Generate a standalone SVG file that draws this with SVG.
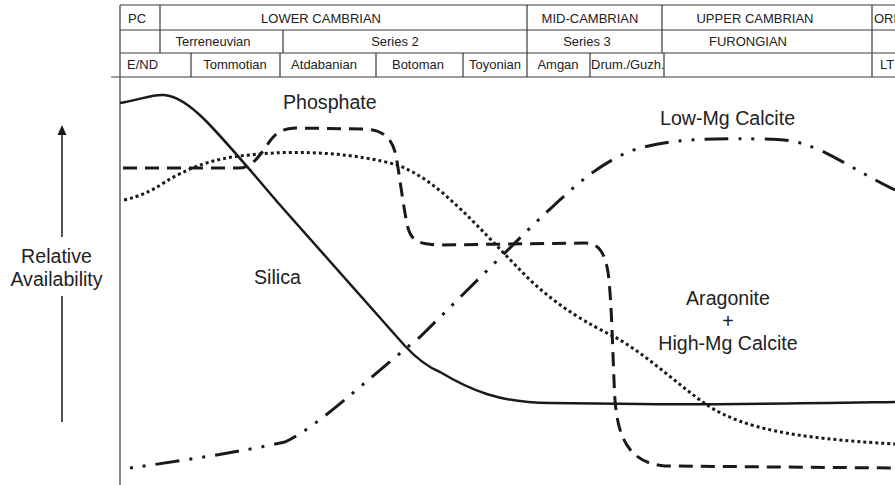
<svg xmlns="http://www.w3.org/2000/svg" width="895" height="485" viewBox="0 0 895 485">
<defs>
<style>
.tl{stroke:#3a3a3a;stroke-width:1.2;fill:none}
.ht{font-family:"Liberation Sans",Arial,sans-serif;font-size:13px;fill:#222}
.lb{font-family:"Liberation Sans",Arial,sans-serif;font-size:19.6px;fill:#222}
.c{fill:none;stroke:#1a1a1a;stroke-linejoin:round}
</style>
</defs>
<rect width="895" height="485" fill="#fff"/>
<g id="timescale">
<path class="tl" d="M120,5 H895 M120,30 H895 M120,53 H895 M111,77 H895 M120,5 V485"/>
<path class="tl" d="M160,5 V53 M527,5 V77 M662,5 V53 M872,5 V77 M283,30 V53 M191,53 V77 M280,53 V77 M376,53 V77 M463,53 V77 M590,53 V77 M664,53 V77"/>
<text class="ht" x="137" y="22.5" text-anchor="middle">PC</text>
<text class="ht" x="321" y="22.5" text-anchor="middle">LOWER CAMBRIAN</text>
<text class="ht" x="590" y="22.5" text-anchor="middle">MID-CAMBRIAN</text>
<text class="ht" x="755" y="22.5" text-anchor="middle">UPPER CAMBRIAN</text>
<text class="ht" x="874" y="22.5">ORD</text>
<text class="ht" x="213" y="46" text-anchor="middle">Terreneuvian</text>
<text class="ht" x="395" y="46" text-anchor="middle">Series 2</text>
<text class="ht" x="587" y="46" text-anchor="middle">Series 3</text>
<text class="ht" x="748" y="46" text-anchor="middle">FURONGIAN</text>
<text class="ht" x="142.5" y="69" text-anchor="middle">E/ND</text>
<text class="ht" x="235" y="69" text-anchor="middle">Tommotian</text>
<text class="ht" x="324" y="69" text-anchor="middle">Atdabanian</text>
<text class="ht" x="418" y="69" text-anchor="middle">Botoman</text>
<text class="ht" x="495" y="69" text-anchor="middle">Toyonian</text>
<text class="ht" x="558" y="69" text-anchor="middle">Amgan</text>
<text class="ht" x="591" y="69">Drum./Guzh.</text>
<text class="ht" x="880" y="69">LT</text>
</g>
<g id="axis-label">
<path d="M62,237 V133" stroke="#1a1a1a" stroke-width="1.5"/>
<path d="M57.5,135 L62,125 L66.5,135 Z" fill="#1a1a1a"/>
<path d="M62,296 V422" stroke="#1a1a1a" stroke-width="1.5"/>
<text class="lb" x="56.5" y="263" text-anchor="middle">Relative</text>
<text class="lb" x="56.5" y="286" text-anchor="middle">Availability</text>
</g>
<g id="curves">
<path id="silica" class="c" stroke-width="2.5" d="M120,103 C140,100 152,94 164,95 C178,96 192,107 205,120 C225,140 250,170 280,205 L405,346 C420,362 430,368 440,372 C470,390 500,403 550,403 L640,404 C700,405 760,404 895,402"/>
<path id="phosphate" class="c" stroke-width="3" stroke-dasharray="14 8" d="M123,168 L238,168 C250,168 256,160 263,151 C272,138 276,129 295,128 L365,129 C385,130 393,140 396,156 C400,178 404,212 408,228 C412,242 420,244 440,245 L585,243 C600,243 605,255 608,272 C612,300 613,370 615,400 C618,440 630,463 665,466 L895,468"/>
<path id="aragonite" class="c" stroke-width="3" stroke-dasharray="3 3" d="M124,200 C140,196 150,192 165,182 C185,170 210,158 250,155 C300,149 360,154 397,165 C440,180 480,230 530,280 C560,308 590,325 615,337 C650,357 680,387 710,407 C745,428 790,438 895,444"/>
<path id="lowmg" class="c" stroke-width="3" stroke-dasharray="24 10 3 10 3 10" stroke-dashoffset="34" d="M130,468 C180,461 240,452 285,442 C320,425 360,385 420,337 L530,228 C570,190 600,160 640,148 C670,140 700,138 760,139 C790,139 800,142 820,150 C850,165 870,178 895,190"/>
</g>
<g id="labels">
<text class="lb" x="283" y="109">Phosphate</text>
<text class="lb" x="254" y="284">Silica</text>
<text class="lb" x="660" y="125">Low-Mg Calcite</text>
<text class="lb" x="728" y="305" text-anchor="middle">Aragonite</text>
<text class="lb" x="728" y="328" text-anchor="middle">+</text>
<text class="lb" x="728" y="350" text-anchor="middle">High-Mg Calcite</text>
</g>
</svg>
